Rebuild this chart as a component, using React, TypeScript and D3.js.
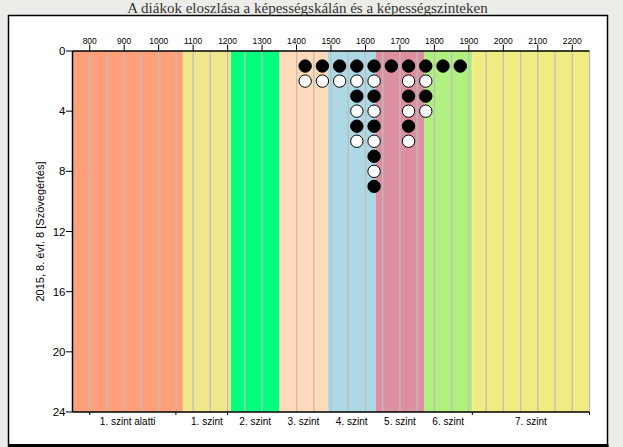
import React from "react";
import * as d3 from "d3";

const W = 623;
const H = 447;

const title = "A diákok eloszlása a képességskálán és a képességszinteken";
const yAxisTitle = "2015, 8. évf. 8 [Szövegértés]";

// score bins (centres of 50-point bins) and number of students in each
const binCenters = [1425, 1475, 1525, 1575, 1625, 1675, 1725, 1775, 1825, 1875];
const binCounts = [2, 2, 2, 6, 9, 1, 6, 4, 1, 1];

// proficiency levels
const levelNames = [
  "1. szint alatti",
  "1. szint",
  "2. szint",
  "3. szint",
  "4. szint",
  "5. szint",
  "6. szint",
  "7. szint",
];
const levelBounds = [750, 1070, 1210, 1350, 1490, 1630, 1770, 1910, 2250];
const levelColors = [
  "#FFA07A",
  "#F0E68C",
  "#00FF7F",
  "#FFDAB9",
  "#ADD8E6",
  "#DB8FA0",
  "#B0F07E",
  "#F0EC82",
];

const topTicks = [800, 900, 1000, 1100, 1200, 1300, 1400, 1500, 1600, 1700, 1800, 1900, 2000, 2100, 2200];
const gridValues = [
  800, 850, 900, 950, 1000, 1050, 1100, 1150, 1200, 1250, 1300, 1400, 1450, 1500, 1550, 1600,
  1650, 1700, 1750, 1800, 1850, 1900, 1950, 2000, 2050, 2100, 2150, 2200, 2250,
];
const leftTicks = [0, 4, 8, 12, 16, 20, 24];
const bottomTicks = [800, 1050, 1200, 1910, 2250];

const xDomain = [750, 2250];
const yDomain = [0, 24];

export default function App() {
  const x = d3.scaleLinear().domain(xDomain).range([72.5, 589.5]);
  const y = d3.scaleLinear().domain(yDomain).range([51, 412]);
  const x0 = x(xDomain[0]);
  const x1 = x(xDomain[1]);
  const y0 = y(yDomain[0]);
  const y1 = y(yDomain[1]);

  const dots: { cx: number; cy: number; black: boolean; key: string }[] = [];
  binCenters.forEach((b, i) => {
    for (let k = 1; k <= binCounts[i]; k++) {
      dots.push({ cx: x(b), cy: y(k), black: k % 2 === 1, key: `${b}-${k}` });
    }
  });

  const sans = "'Liberation Sans', Arial, sans-serif";

  return (
    <svg
      width={W}
      height={H}
      style={{ position: "absolute", left: 0, top: 0, display: "block" }}
    >
      <rect x={0} y={0} width={W} height={H} fill="#ECECE9" />
      <rect x={8.5} y={15.5} width={599} height={432} fill="#FFFFFF" stroke="#000" strokeWidth={1.5} />
      <line x1={8} x2={608.5} y1={445.5} y2={445.5} stroke="#000" strokeWidth={3} />

      <text
        x={307.5}
        y={12.5}
        textAnchor="middle"
        fontFamily="'Liberation Serif', 'Times New Roman', serif"
        fontSize={15}
        fill="#333"
      >
        {title}
      </text>

      {/* level bands */}
      {levelNames.map((n, i) => (
        <rect
          key={n}
          x={x(levelBounds[i])}
          y={y0}
          width={x(levelBounds[i + 1]) - x(levelBounds[i])}
          height={y1 - y0}
          fill={levelColors[i]}
        />
      ))}

      {/* gridlines */}
      {gridValues.map((g) => (
        <line key={g} x1={x(g)} x2={x(g)} y1={y0} y2={y1} stroke="#BEBEBE" strokeWidth={1.3} />
      ))}

      {/* dots */}
      {dots.map((d) => (
        <circle
          key={d.key}
          cx={d.cx}
          cy={d.cy}
          r={6.2}
          fill={d.black ? "#000" : "#fff"}
          stroke="#000"
          strokeWidth={1}
        />
      ))}

      {/* axes */}
      <line x1={x0} x2={x1} y1={y0} y2={y0} stroke="#000" strokeWidth={1.5} />
      <line x1={x0} x2={x1} y1={y1} y2={y1} stroke="#000" strokeWidth={1.5} />
      <line x1={x0} x2={x0} y1={y0} y2={y1} stroke="#000" strokeWidth={1.5} />

      {topTicks.map((t) => (
        <g key={t}>
          <line x1={x(t)} x2={x(t)} y1={y0 - 6.5} y2={y0} stroke="#000" strokeWidth={1} />
          <text x={x(t)} y={y0 - 7.5} textAnchor="middle" fontFamily={sans} fontSize={8.5} fill="#000">
            {t}
          </text>
        </g>
      ))}

      {leftTicks.map((t) => (
        <g key={t}>
          <line x1={x0 - 6.5} x2={x0} y1={y(t)} y2={y(t)} stroke="#000" strokeWidth={1} />
          <text
            x={x0 - 7}
            y={y(t)}
            dy="0.35em"
            textAnchor="end"
            fontFamily={sans}
            fontSize={11.5}
            fill="#000"
          >
            {t}
          </text>
        </g>
      ))}

      {bottomTicks.map((t) => (
        <line key={t} x1={x(t)} x2={x(t)} y1={y1} y2={y1 + 3} stroke="#000" strokeWidth={1} />
      ))}

      {levelNames.map((n, i) => (
        <text
          key={n}
          x={(x(levelBounds[i]) + x(levelBounds[i + 1])) / 2}
          y={y1 + 12.5}
          textAnchor="middle"
          fontFamily={sans}
          fontSize={10}
          fill="#000"
        >
          {n}
        </text>
      ))}

      <text
        transform={`translate(44, ${(y0 + y1) / 2}) rotate(-90)`}
        textAnchor="middle"
        fontFamily={sans}
        fontSize={11}
        fill="#000"
      >
        {yAxisTitle}
      </text>
    </svg>
  );
}
